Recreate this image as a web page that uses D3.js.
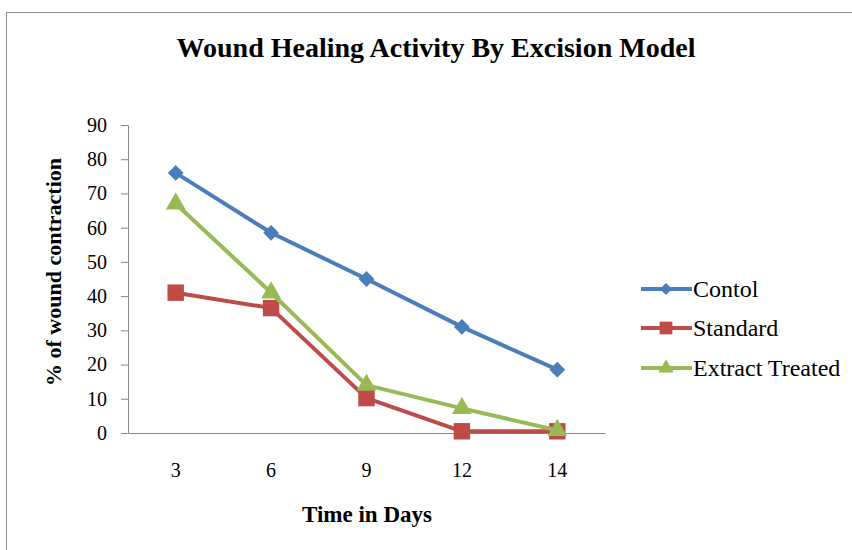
<!DOCTYPE html>
<html><head><meta charset="utf-8">
<script src="https://cdn.jsdelivr.net/npm/d3@7"></script>
<style>body{margin:0;background:#fff}svg{display:block}</style>
</head><body>
<script>
const days = ["3","6","9","12","14"];
const control = [76, 58.5, 45, 31, 18.5];
const standard = [41, 36.5, 10.2, 0.5, 0.5];
const extract = [67, 41, 14, 7.2, 0.8];
const seriesNames = ["Contol","Standard","Extract Treated"];
const yTicks = [0,10,20,30,40,50,60,70,80,90];

const W = 852, H = 550;
const svg = d3.select("body").append("svg").attr("width", W).attr("height", H);
const font = "'Liberation Serif','Times New Roman',serif";

svg.append("rect").attr("x", 6.5).attr("y", 12.5).attr("width", 900).attr("height", 600)
  .attr("fill", "#fff").attr("stroke", "#8c8c8c").attr("stroke-width", 1);

const mLeft = 128, mRight = 605, mTop = 125, mBottom = 433;
const x = d3.scaleBand().domain(days).range([mLeft, mRight]);
const y = d3.scaleLinear().domain([0, 90]).range([mBottom, mTop]);
const cx = d => x(d) + x.bandwidth() / 2;

// axes
const yAxis = svg.append("g").attr("transform", `translate(${mLeft},0)`)
  .call(d3.axisLeft(y).tickValues(yTicks).tickSize(7).tickPadding(14).tickSizeOuter(0));
yAxis.select(".domain").attr("stroke", "#868686");
yAxis.selectAll(".tick line").attr("stroke", "#868686");
yAxis.selectAll("text").attr("font-family", font).attr("font-size", 20).attr("fill", "#000");

const xAxis = svg.append("g").attr("transform", `translate(0,${mBottom})`)
  .call(d3.axisBottom(x).tickSize(0).tickPadding(30).tickSizeOuter(0));
xAxis.select(".domain").attr("stroke", "#868686");
xAxis.selectAll("text").attr("font-family", font).attr("font-size", 20).attr("fill", "#000");

// titles
svg.append("text").attr("x", 436).attr("y", 57).attr("text-anchor", "middle")
  .attr("font-family", font).attr("font-weight", "bold").attr("font-size", 28)
  .text("Wound Healing Activity By Excision Model");
svg.append("text").attr("x", 367).attr("y", 522).attr("text-anchor", "middle")
  .attr("font-family", font).attr("font-weight", "bold").attr("font-size", 23)
  .text("Time in Days");
svg.append("text").attr("transform", "translate(61,272) rotate(-90)").attr("text-anchor", "middle")
  .attr("font-family", font).attr("font-weight", "bold").attr("font-size", 22)
  .text("% of wound contraction");

const series = [
  {name: seriesNames[0], values: control, color: "#4A7EBB", shape: d3.symbolSquare, size: 125, rot: 45},
  {name: seriesNames[1], values: standard, color: "#BE4B48", shape: d3.symbolSquare, size: 270, rot: 0},
  {name: seriesNames[2], values: extract, color: "#98B954", shape: d3.symbolTriangle, size: 170, rot: 0}
];

const line = d3.line().x((d, i) => cx(days[i])).y(d => y(d));
series.forEach(s => {
  svg.append("path").datum(s.values).attr("d", line).attr("fill", "none")
    .attr("stroke", s.color).attr("stroke-width", 4).attr("stroke-linejoin", "round");
  svg.selectAll(null).data(s.values).enter().append("path")
    .attr("d", d3.symbol().type(s.shape).size(s.size))
    .attr("transform", (d, i) => `translate(${cx(days[i])},${y(d)}) rotate(${s.rot})`)
    .attr("fill", s.color);
});

// legend
const legY = [289, 328, 368];
series.forEach((s, i) => {
  const g = svg.append("g").attr("transform", `translate(0,${legY[i]})`);
  g.append("line").attr("x1", 641).attr("x2", 692).attr("y1", 0).attr("y2", 0)
    .attr("stroke", s.color).attr("stroke-width", 4);
  g.append("path").attr("d", d3.symbol().type(s.shape).size(s.size * 0.6))
    .attr("transform", `translate(666,0) rotate(${s.rot})`).attr("fill", s.color);
  g.append("text").attr("x", 693).attr("y", 8).attr("font-family", font)
    .attr("font-size", 24).text(s.name);
});
</script>
</body></html>
